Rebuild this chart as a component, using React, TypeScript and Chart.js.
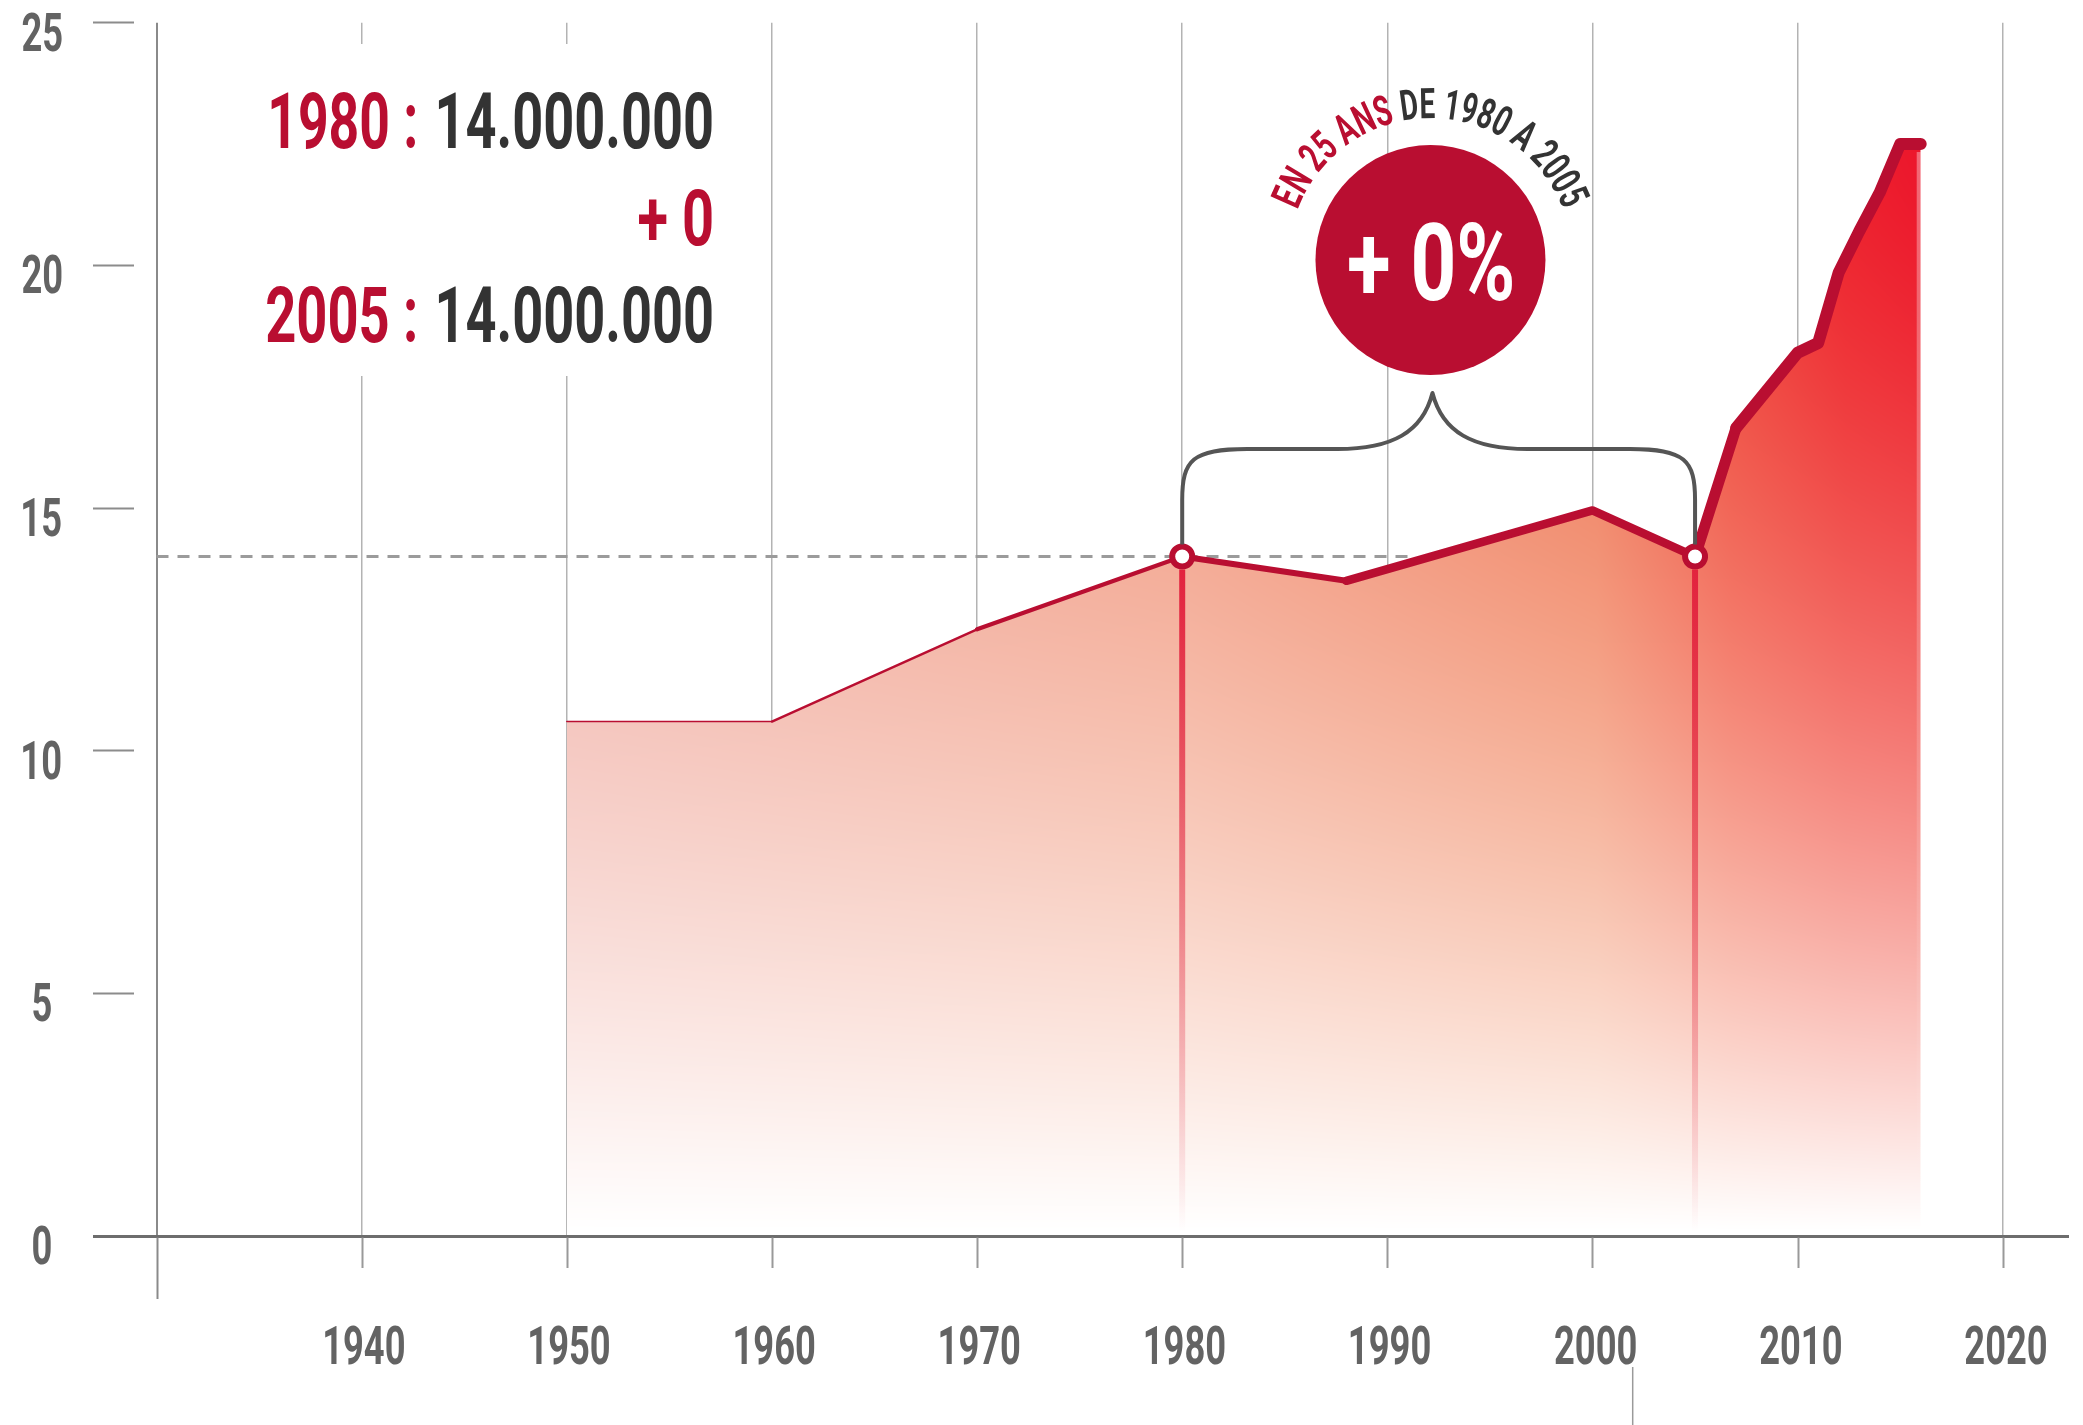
import React, { useEffect, useRef } from "react";
import { Chart, registerables } from "chart.js";

Chart.register(...registerables);

// ---------- data ----------
const years = [1950, 1960, 1970, 1980, 1988, 2000, 2005, 2007, 2010, 2011, 2012, 2013, 2014, 2015, 2016];
const values = [10.6, 10.6, 12.5, 14.0, 13.5, 14.95, 14.0, 16.65, 18.2, 18.4, 19.85, 20.7, 21.5, 22.5, 22.5];
const gridYears = [1930, 1940, 1950, 1960, 1970, 1980, 1990, 2000, 2010, 2020];
const labelYears = [1940, 1950, 1960, 1970, 1980, 1990, 2000, 2010, 2020];
const yTicks = [0, 5, 10, 15, 20, 25];
const highlightYears = [1980, 2005];
const highlightValue = 14;
const line1 = ["1980 :", "14.000.000"];
const line2 = "+ 0";
const line3 = ["2005 :", "14.000.000"];
const badgeText = "+ 0%";
const arcRed = "EN 25 ANS";
const arcDark = " DE 1980 A 2005";

// ---------- styles ----------
const segmentWidths = [1.5, 2.4, 4.2, 6, 8.5, 8.5, 11, 12, 12, 12, 12, 12, 12, 12];
const RED = "#b90e31";
const DARK = "#333333";
const GRAY_TXT = "#636363";
const FONT_FAMILY = 'Roboto, "Noto Sans", "DejaVu Sans", sans-serif';

function fontFor(cap: number) {
  return `700 ${(cap / 0.711).toFixed(2)}px ${FONT_FAMILY}`;
}

// draw condensed text; x refers to ink edge/center
function drawText(
  ctx: CanvasRenderingContext2D,
  text: string,
  x: number,
  y: number,
  cap: number,
  color: string,
  align: "left" | "right" | "center",
  opts: { sx?: number; width?: number }
) {
  ctx.save();
  ctx.font = fontFor(cap);
  ctx.textAlign = "left";
  ctx.textBaseline = "alphabetic";
  ctx.fillStyle = color;
  const m = ctx.measureText(text);
  const abl = m.actualBoundingBoxLeft;
  const inkW = m.actualBoundingBoxLeft + m.actualBoundingBoxRight;
  const sx = opts.width ? opts.width / inkW : opts.sx || 1;
  const w = inkW * sx;
  const left = align === "left" ? x : align === "right" ? x - w : x - w / 2;
  ctx.translate(left + abl * sx, y);
  ctx.scale(sx, 1);
  ctx.fillText(text, 0, 0);
  ctx.restore();
}

function drawArcText(
  ctx: CanvasRenderingContext2D,
  parts: [string, string][],
  cx: number,
  cy: number,
  R: number,
  cap: number,
  totalW: number
) {
  ctx.save();
  ctx.font = fontFor(cap);
  const chars: { ch: string; c: string; w: number }[] = [];
  parts.forEach(([t, c]) => {
    for (const ch of t) chars.push({ ch, c, w: ctx.measureText(ch).width });
  });
  const N = chars.reduce((s, a) => s + a.w, 0);
  const sx = totalW / N;
  let s = -totalW / 2;
  for (const a of chars) {
    const w = a.w * sx;
    const th = (s + w / 2) / R;
    ctx.save();
    ctx.translate(cx + R * Math.sin(th), cy - R * Math.cos(th));
    ctx.rotate(th);
    ctx.scale(sx, 1);
    ctx.fillStyle = a.c;
    ctx.textAlign = "center";
    ctx.textBaseline = "alphabetic";
    ctx.fillText(a.ch, 0, 0);
    ctx.restore();
    s += w;
  }
  ctx.restore();
}

function buildPattern(chart: any) {
  const xs = chart.scales.x;
  const ys = chart.scales.y;
  const xa = xs.getPixelForValue(years[0]);
  const xb = xs.getPixelForValue(years[years.length - 1]);
  const yTop = ys.getPixelForValue(Math.max(...values));
  const yB = ys.getPixelForValue(0);
  const W = chart.canvas.width;
  const H = chart.canvas.height;
  const off = document.createElement("canvas");
  off.width = W;
  off.height = H;
  const octx = off.getContext("2d")!;
  const x0 = Math.max(0, Math.floor(xa) - 4);
  const x1 = Math.min(W, Math.ceil(xb) + 4);
  const y0 = Math.max(0, Math.floor(yTop) - 12);
  const y1 = Math.min(H, Math.ceil(yB) + 2);
  const img = octx.createImageData(x1 - x0, y1 - y0);
  const stops: [number, number[]][] = [
    [0, [238, 162, 150]],
    [0.4525, [240, 146, 125]],
    [0.76, [238, 112, 86]],
    [0.86, [238, 62, 58]],
    [0.944, [237, 32, 46]],
    [1, [236, 22, 44]],
  ];
  const base = (u: number) => {
    for (let i = 1; i < stops.length; i++) {
      if (u <= stops[i][0]) {
        const [u0, c0] = stops[i - 1];
        const [u1, c1] = stops[i];
        const k = (u - u0) / (u1 - u0);
        return [c0[0] + (c1[0] - c0[0]) * k, c0[1] + (c1[1] - c0[1]) * k, c0[2] + (c1[2] - c0[2]) * k];
      }
    }
    return stops[stops.length - 1][1];
  };
  const cols: number[][] = [];
  const gB: number[] = [];
  for (let x = x0; x < x1; x++) {
    const u = Math.min(1, Math.max(0, (x - xa) / (xb - xa)));
    cols.push(base(u));
    gB.push(1.45 + 0.35 * u);
  }
  let p = 0;
  for (let y = y0; y < y1; y++) {
    const t = Math.min(1, Math.max(0, (y - yTop) / (yB - 6 - yTop)));
    const f = Math.pow(t, 1.45);
    for (let i = 0; i < x1 - x0; i++) {
      const c = cols[i];
      const fb = Math.pow(t, gB[i]);
      img.data[p++] = c[0] * (1 - f) + 255 * f;
      img.data[p++] = c[1] * (1 - f) + 255 * f;
      img.data[p++] = c[2] * (1 - fb) + 255 * fb;
      img.data[p++] = 255;
    }
  }
  octx.putImageData(img, x0, y0);
  return chart.ctx.createPattern(off, "no-repeat");
}

const decorPlugin = {
  id: "decor",
  beforeDatasetsDraw(chart: any) {
    const { ctx } = chart;
    const x = chart.scales.x;
    const y = chart.scales.y;
    ctx.save();
    // white panel behind the headline figures
    ctx.fillStyle = "#ffffff";
    ctx.fillRect(250, 44, 490, 332);
    // dashed reference level
    ctx.strokeStyle = "#9b9b9b";
    ctx.lineWidth = 3;
    ctx.setLineDash([12, 9]);
    ctx.beginPath();
    ctx.moveTo(x.getPixelForValue(1930), y.getPixelForValue(highlightValue));
    ctx.lineTo(x.getPixelForValue(1991.4), y.getPixelForValue(highlightValue));
    ctx.stroke();
    ctx.setLineDash([]);
    ctx.restore();
  },
  afterDatasetsDraw(chart: any) {
    const { ctx } = chart;
    const x = chart.scales.x;
    const y = chart.scales.y;
    const y0 = y.getPixelForValue(0);
    const yh = y.getPixelForValue(highlightValue);
    ctx.save();
    // drop lines
    for (const yr of highlightYears) {
      const px = x.getPixelForValue(yr);
      const g = ctx.createLinearGradient(0, yh + 13, 0, y0 - 4);
      g.addColorStop(0, "rgba(226,35,62,1)");
      g.addColorStop(0.45, "rgba(226,35,62,0.55)");
      g.addColorStop(1, "rgba(226,35,62,0)");
      ctx.strokeStyle = g;
      ctx.lineWidth = 6;
      ctx.beginPath();
      ctx.moveTo(px, yh + 13);
      ctx.lineTo(px, y0 - 4);
      ctx.stroke();
    }
    // lighter strip on the right edge of the area
    const xe = x.getPixelForValue(years[years.length - 1]);
    const ye = y.getPixelForValue(values[values.length - 1]);
    const sg = ctx.createLinearGradient(0, ye + 8, 0, y0 - 4);
    sg.addColorStop(0, "rgba(255,255,255,0.35)");
    sg.addColorStop(1, "rgba(255,255,255,0)");
    ctx.fillStyle = sg;
    ctx.fillRect(xe - 4, ye + 8, 4, y0 - 4 - ye - 8);
    // brace
    const x1 = x.getPixelForValue(highlightYears[0]);
    const x2 = x.getPixelForValue(highlightYears[1]);
    const xp = x.getPixelForValue(1992.2);
    const yH = 449;
    const yPeak = 393;
    const yEnd = yh - 12;
    ctx.strokeStyle = "#555555";
    ctx.lineWidth = 4;
    ctx.lineJoin = "round";
    ctx.beginPath();
    ctx.moveTo(x1, yEnd);
    ctx.lineTo(x1, 500);
    ctx.bezierCurveTo(x1, 460, x1 + 10, yH, x1 + 65, yH);
    ctx.lineTo(xp - 95, yH);
    ctx.bezierCurveTo(xp - 40, yH, xp - 10, 432, xp, yPeak);
    ctx.bezierCurveTo(xp + 10, 432, xp + 40, yH, xp + 95, yH);
    ctx.lineTo(x2 - 65, yH);
    ctx.bezierCurveTo(x2 - 10, yH, x2, 460, x2, 500);
    ctx.lineTo(x2, yEnd);
    ctx.stroke();
    // badge
    const bx = xp - 2;
    const by = 260;
    ctx.fillStyle = RED;
    ctx.beginPath();
    ctx.arc(bx, by, 115, 0, Math.PI * 2);
    ctx.fill();
    ctx.restore();
    drawText(ctx, badgeText, bx, 300, 77, "#ffffff", "center", { width: 164 });
    drawArcText(ctx, [[arcRed, RED], [arcDark, DARK]], bx, by, 142, 30, 344);
  },
  afterDraw(chart: any) {
    const { ctx } = chart;
    const x = chart.scales.x;
    const y = chart.scales.y;
    const y0 = y.getPixelForValue(0);
    ctx.save();
    // x tick marks below the axis
    for (const v of gridYears) {
      const px = Math.round(x.getPixelForValue(v)) + 0.5;
      ctx.strokeStyle = v === gridYears[0] ? "#8a8a8a" : "#999999";
      ctx.lineWidth = 2;
      ctx.beginPath();
      ctx.moveTo(px, y0 + 1.5);
      ctx.lineTo(px, y0 + (v === gridYears[0] ? 63 : 32));
      ctx.stroke();
    }
    // small mark under the axis
    ctx.strokeStyle = "#9a9a9a";
    ctx.lineWidth = 1.5;
    ctx.beginPath();
    ctx.moveTo(1632.7, 1367);
    ctx.lineTo(1632.7, 1425);
    ctx.stroke();
    ctx.restore();
    // headline figures
    drawText(ctx, line1[0], 415, 148.3, 55, RED, "right", { width: 143.6 });
    drawText(ctx, line1[1], 711.6, 148.3, 55, DARK, "right", { width: 273 });
    drawText(ctx, line2, 711.6, 245, 55, RED, "right", { width: 72.6 });
    drawText(ctx, line3[0], 415, 341.7, 55, RED, "right", { width: 148.4 });
    drawText(ctx, line3[1], 711.6, 341.7, 55, DARK, "right", { width: 273 });
    // tick labels
    for (const yr of labelYears) {
      drawText(ctx, String(yr), x.getPixelForValue(yr) + 3, 1364, 38, GRAY_TXT, "center", { sx: 0.68 });
    }
    for (const v of yTicks) {
      drawText(ctx, String(v), 42, y.getPixelForValue(v) + 28, 38, GRAY_TXT, "center", { sx: 0.68 });
    }
  },
};

export default function App() {
  const ref = useRef<HTMLCanvasElement>(null);
  useEffect(() => {
    document.body.style.margin = "0";
    document.body.style.overflow = "hidden";
    const canvas = ref.current!;
    const pts = years.map((yr, i) => ({ x: yr, y: values[i] }));
    const chart = new Chart(canvas, {
      type: "line",
      data: {
        datasets: [
          {
            data: pts,
            borderColor: RED,
            borderWidth: 8,
            borderCapStyle: "round",
            borderJoinStyle: "round",
            fill: false,
            tension: 0,
            segment: {
              borderWidth: (c: any) => segmentWidths[c.p0DataIndex],
            },
            pointRadius: (c: any) => (highlightYears.includes(years[c.dataIndex]) ? 10 : 0),
            pointHoverRadius: (c: any) => (highlightYears.includes(years[c.dataIndex]) ? 10 : 0),
            pointBackgroundColor: "#ffffff",
            pointBorderColor: RED,
            pointBorderWidth: 6,
          } as any,
          {
            data: pts,
            borderColor: "rgba(0,0,0,0)",
            borderWidth: 0,
            pointRadius: 0,
            fill: "origin",
            backgroundColor: "rgba(0,0,0,0)",
            tension: 0,
          } as any,
        ],
      },
      options: {
        responsive: false,
        devicePixelRatio: 1,
        animation: false,
        events: [],
        layout: { padding: { top: 22.7, right: 15, left: 0, bottom: 0 } },
        plugins: { legend: { display: false }, tooltip: { enabled: false } },
        scales: {
          x: {
            type: "linear",
            min: 1928.903,
            max: 2023.18,
            afterBuildTicks: (s: any) => {
              s.ticks = gridYears.map((v) => ({ value: v }));
            },
            afterFit: (s: any) => {
              s.height = 189;
            },
            ticks: { display: false },
            grid: {
              drawOnChartArea: true,
              drawTicks: false,
              color: (c: any) => (c.tick && c.tick.value === 1930 ? "#8a8a8a" : "#b3b3b3"),
              lineWidth: (c: any) => (c.tick && c.tick.value === 1930 ? 2 : 1.5),
            },
            border: { display: true, color: "#6d6d6d", width: 3, z: 1 },
          },
          y: {
            type: "linear",
            min: 0,
            max: 25,
            afterBuildTicks: (s: any) => {
              s.ticks = yTicks.map((v) => ({ value: v }));
            },
            afterFit: (s: any) => {
              s.width = 134;
            },
            ticks: { display: false },
            grid: {
              drawOnChartArea: false,
              drawTicks: true,
              tickLength: 41,
              tickColor: (c: any) => (c.tick && c.tick.value === 0 ? "#6d6d6d" : "#8c8c8c"),
              tickWidth: (c: any) => (c.tick && c.tick.value === 0 ? 3 : 2),
            },
            border: { display: false },
          },
        },
      } as any,
      plugins: [decorPlugin],
    });
    const pattern = buildPattern(chart);
    (chart.data.datasets[1] as any).backgroundColor = pattern;
    chart.update("none");
    return () => chart.destroy();
  }, []);
  return (
    <canvas
      ref={ref}
      width={2083}
      height={1425}
      style={{ display: "block", width: "2083px", height: "1425px" }}
    />
  );
}
